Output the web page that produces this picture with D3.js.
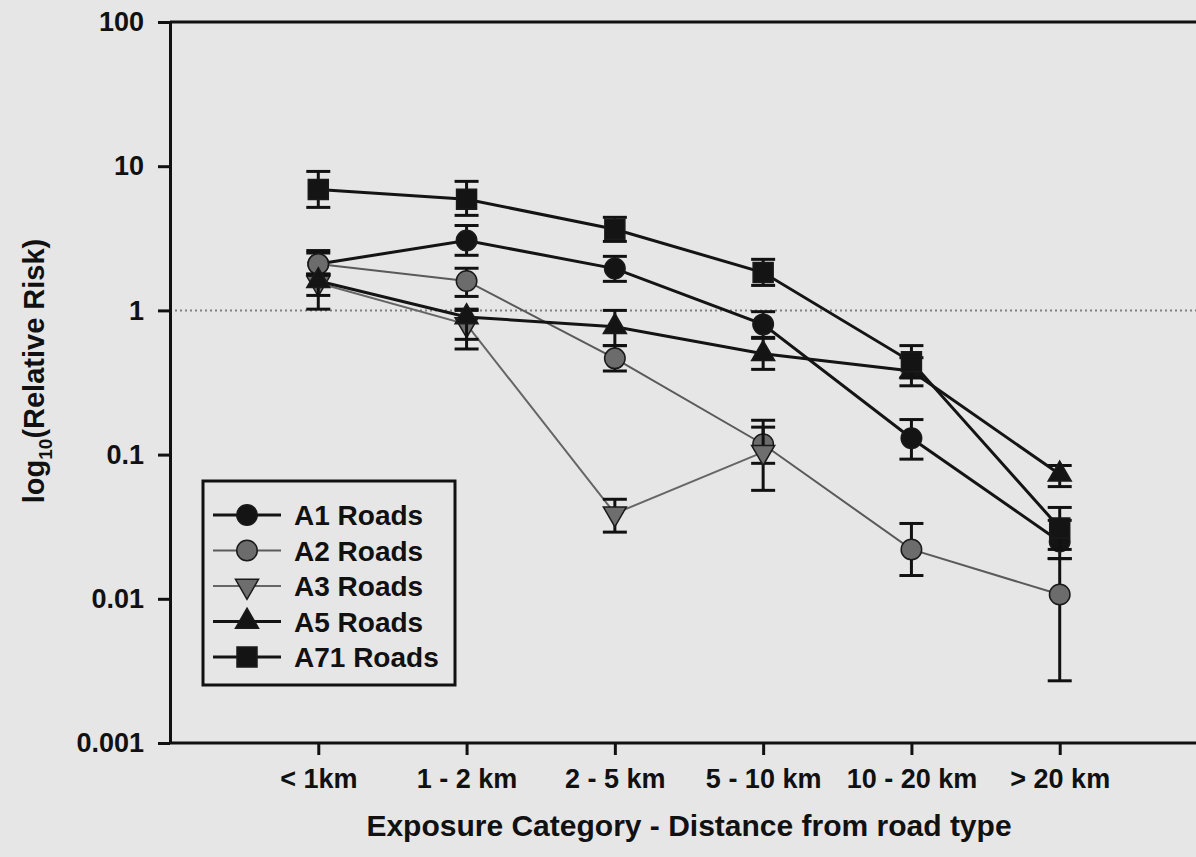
<!DOCTYPE html>
<html>
<head>
<meta charset="utf-8">
<script src="https://cdn.jsdelivr.net/npm/d3@7/dist/d3.min.js"></script>
<style>
  body { margin: 0; background: #e6e6e6; }
  svg { display: block; font-family: Arial, "Liberation Sans", sans-serif; font-weight: bold; }
</style>
</head>
<body>
<svg id="chart"></svg>
<script>
const categories = ["< 1km", "1 - 2 km", "2 - 5 km", "5 - 10 km", "10 - 20 km", "> 20 km"];
const yTicks = [0.001, 0.01, 0.1, 1, 10, 100];
const yTickLabels = ["0.001", "0.01", "0.1", "1", "10", "100"];

// relative risk and 95% limits
const a1 = [2.1, 3.05, 1.95, 0.80, 0.13, 0.025];
const a1Lo = [1.78, 2.41, 1.59, 0.64, 0.093, 0.019];
const a1Hi = [2.6, 3.88, 2.37, 0.98, 0.175, 0.035];

const a2 = [2.1, 1.6, 0.465, 0.118, 0.022, 0.0107];
const a2Lo = [1.78, 1.25, 0.38, 0.087, 0.0145, 0.0027];
const a2Hi = [2.5, 1.96, 0.57, 0.173, 0.0333, 0.019];

const a3 = [1.55, 0.80, 0.039, 0.104, null, null];
const a3Lo = [1.02, 0.54, 0.029, 0.0565, null, null];
const a3Hi = [1.78, 1.0, 0.049, 0.155, null, null];

const a5 = [1.6, 0.9, 0.77, 0.50, 0.38, 0.073];
const a5Lo = [1.27, 0.63, 0.57, 0.39, 0.30, 0.060];
const a5Hi = [1.78, 1.02, 1.0, 0.65, 0.47, 0.084];

const a71 = [6.9, 5.9, 3.65, 1.83, 0.44, 0.031];
const a71Lo = [5.18, 4.56, 3.01, 1.49, 0.34, 0.022];
const a71Hi = [9.2, 7.85, 4.42, 2.26, 0.57, 0.043];

const W = 1196, H = 857;
const plotLeft = 170, plotTop = 22, plotBottom = 743;

const series = [
  { name: "A1 Roads", v: a1, lo: a1Lo, hi: a1Hi, sym: d3.symbolCircle, size: 330, rot: 0, fill: "#141414", line: "#141414", lw: 3 },
  { name: "A2 Roads", v: a2, lo: a2Lo, hi: a2Hi, sym: d3.symbolCircle, size: 330, rot: 0, fill: "#6c6c6c", line: "#5a5a5a", lw: 2 },
  { name: "A3 Roads", v: a3, lo: a3Lo, hi: a3Hi, sym: d3.symbolTriangle, size: 230, rot: 180, fill: "#6e6e6e", line: "#666666", lw: 2 },
  { name: "A5 Roads", v: a5, lo: a5Lo, hi: a5Hi, sym: d3.symbolTriangle, size: 230, rot: 0, fill: "#141414", line: "#141414", lw: 3 },
  { name: "A71 Roads", v: a71, lo: a71Lo, hi: a71Hi, sym: d3.symbolSquare, size: 400, rot: 0, fill: "#141414", line: "#141414", lw: 3 }
];

const svg = d3.select("#chart").attr("width", W).attr("height", H);

svg.append("rect").attr("width", W).attr("height", H).attr("fill", "#e6e6e6");

const x = d3.scalePoint().domain(categories).range([plotLeft, 1208]).padding(1);
const y = d3.scaleLog().domain([0.001, 100]).range([plotBottom, plotTop]);

// reference line at RR = 1
svg.append("line")
  .attr("x1", plotLeft).attr("x2", W)
  .attr("y1", y(1)).attr("y2", y(1))
  .attr("stroke", "#808080").attr("stroke-width", 2)
  .attr("stroke-dasharray", "2,3");

// top frame
svg.append("line")
  .attr("x1", plotLeft).attr("x2", W)
  .attr("y1", plotTop).attr("y2", plotTop)
  .attr("stroke", "#111").attr("stroke-width", 3);

const yAxis = svg.append("g")
  .attr("transform", `translate(${plotLeft},0)`)
  .call(d3.axisLeft(y).tickValues(yTicks)
    .tickFormat((d, i) => yTickLabels[i])
    .tickSize(12).tickSizeOuter(0).tickPadding(14));

const xAxis = svg.append("g")
  .attr("transform", `translate(0,${plotBottom})`)
  .call(d3.axisBottom(x).tickSize(12).tickSizeOuter(0).tickPadding(14));

[yAxis, xAxis].forEach(g => {
  g.select(".domain").attr("stroke", "#111").attr("stroke-width", 3);
  g.selectAll(".tick line").attr("stroke", "#111").attr("stroke-width", 3);
  g.selectAll(".tick text")
    .attr("fill", "#111")
    .style("font-family", "Arial, 'Liberation Sans', sans-serif")
    .style("font-weight", "bold")
    .style("font-size", "27px");
});
// the bottom axis line also starts at the y axis
xAxis.select(".domain").attr("d", `M${plotLeft},0H1208`);

// axis titles
svg.append("text")
  .attr("x", 689).attr("y", 836)
  .attr("text-anchor", "middle")
  .attr("fill", "#111")
  .style("font-size", "30px")
  .text("Exposure Category - Distance from road type");

const yTitle = svg.append("text")
  .attr("transform", `translate(44,371) rotate(-90)`)
  .attr("text-anchor", "middle")
  .attr("fill", "#111")
  .style("font-size", "29px");
yTitle.append("tspan").text("log");
yTitle.append("tspan").attr("dy", 8).style("font-size", "19px").text("10");
yTitle.append("tspan").attr("dy", -8).text("(Relative Risk)");

const line = d3.line()
  .defined(d => d != null)
  .x((d, i) => x(categories[i]))
  .y(d => y(d));

const capW = 12;

series.forEach(s => {
  const g = svg.append("g");
  g.append("path")
    .datum(s.v)
    .attr("fill", "none")
    .attr("stroke", s.line)
    .attr("stroke-width", s.lw)
    .attr("d", line);

  const pts = s.v.map((v, i) => ({ v, lo: s.lo[i], hi: s.hi[i], c: categories[i] }))
    .filter(d => d.v != null);

  const eb = g.selectAll(".err").data(pts).enter().append("g")
    .attr("stroke", "#111").attr("stroke-width", 3);
  eb.append("line")
    .attr("x1", d => x(d.c)).attr("x2", d => x(d.c))
    .attr("y1", d => y(d.lo)).attr("y2", d => y(d.hi));
  eb.append("line")
    .attr("x1", d => x(d.c) - capW).attr("x2", d => x(d.c) + capW)
    .attr("y1", d => y(d.lo)).attr("y2", d => y(d.lo));
  eb.append("line")
    .attr("x1", d => x(d.c) - capW).attr("x2", d => x(d.c) + capW)
    .attr("y1", d => y(d.hi)).attr("y2", d => y(d.hi));

  g.selectAll(".mark").data(pts).enter().append("path")
    .attr("d", d3.symbol().type(s.sym).size(s.size))
    .attr("transform", d => `translate(${x(d.c)},${y(d.v)}) rotate(${s.rot})`)
    .attr("fill", s.fill)
    .attr("stroke", "#1a1a1a")
    .attr("stroke-width", 1.5);
});

// legend
const legend = svg.append("g");
legend.append("rect")
  .attr("x", 203).attr("y", 481).attr("width", 252).attr("height", 204)
  .attr("fill", "#e6e6e6").attr("stroke", "#111").attr("stroke-width", 3);

const rowY = d3.scalePoint().domain(series.map(s => s.name)).range([515, 657]);

series.forEach(s => {
  const r = legend.append("g").attr("transform", `translate(0,${rowY(s.name)})`);
  r.append("line").attr("x1", 213).attr("x2", 281).attr("y1", 0).attr("y2", 0)
    .attr("stroke", s.line).attr("stroke-width", s.lw);
  r.append("path")
    .attr("d", d3.symbol().type(s.sym).size(s.size))
    .attr("transform", `translate(247,0) rotate(${s.rot})`)
    .attr("fill", s.fill).attr("stroke", "#1a1a1a").attr("stroke-width", 1.5);
  r.append("text")
    .attr("x", 294).attr("y", 10)
    .attr("fill", "#111")
    .style("font-size", "28px")
    .text(s.name);
});
</script>
</body>
</html>
